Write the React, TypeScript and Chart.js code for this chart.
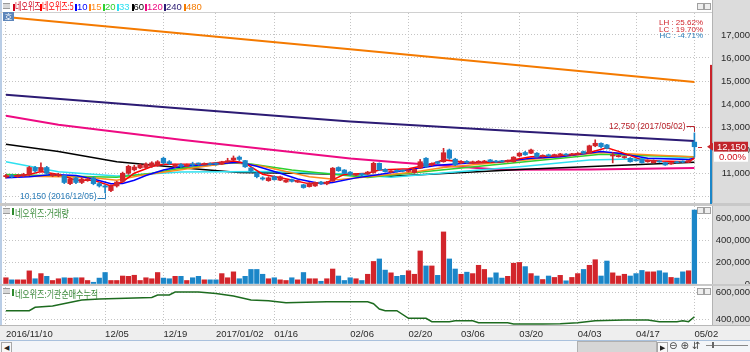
import React, { useEffect, useRef } from 'react';
import { Chart, registerables } from 'chart.js';

Chart.register(...registerables);

const FONT = "'Liberation Sans', Arial, sans-serif";
const KFONT = "'Noto Sans CJK KR', 'Noto Sans', sans-serif";

// ---------- categories (trading days) ----------
const monthDays: [string, number[]][] = [
  ['2016/11', [10, 11, 14, 15, 16, 17, 18, 21, 22, 23, 24, 25, 28, 29, 30]],
  ['2016/12', [1, 2, 5, 6, 7, 8, 9, 12, 13, 14, 15, 16, 19, 20, 21, 22, 23, 26, 27, 28, 29]],
  ['2017/01', [2, 3, 4, 5, 6, 9, 10, 11, 12, 13, 16, 17, 18, 19, 20, 23, 24, 25, 26, 31]],
  ['2017/02', [1, 2, 3, 6, 7, 8, 9, 10, 13, 14, 15, 16, 17, 20, 21, 22, 23, 24, 27, 28]],
  ['2017/03', [2, 3, 6, 7, 8, 9, 10, 13, 14, 15, 16, 17, 20, 21, 22, 23, 24, 27, 28, 29, 30, 31]],
  ['2017/04', [3, 4, 5, 6, 7, 10, 11, 12, 13, 14, 17, 18, 19, 20, 21, 24, 25, 26, 27, 28]],
  ['2017/05', [2]],
];
const dates = monthDays.flatMap(([m, ds]) => ds.map((d) => `${m}/${String(d).padStart(2, '0')}`));
const emptySlots = ['', ' '];
const slots = [...dates, ...emptySlots];

const tickDates = ['2016/11/10', '2016/12/05', '2016/12/19', '2017/01/02', '2017/01/16', '2017/02/06', '2017/02/20', '2017/03/06', '2017/03/20', '2017/04/03', '2017/04/17', '2017/05/02'];
const tickText = ['2016/11/10', '12/05', '12/19', '2017/01/02', '01/16', '02/06', '02/20', '03/06', '03/20', '04/03', '04/17', '05/02'];

// ---------- axis ticks ----------
const priceTicks = [10000, 11000, 12000, 13000, 14000, 15000, 16000, 17000];
const priceLabelMin = 11000;
const volumeTicks = [0, 200000, 400000, 600000];
const instTicks = [400000, 600000];

// ---------- price (OHLC) ----------
const open = [10850, 10900, 10850, 10900, 10950, 11250, 11100, 11250, 10900, 10900,
  10900, 10550, 10800, 10600, 10700, 10800, 10550, 10450, 10250, 10450,
  10650, 11000, 11150, 11230, 11250, 11300, 11350, 11650, 11500, 11300,
  11380, 11300, 11400, 11420, 11380, 11420, 11420, 11400, 11500, 11580,
  11700, 11550, 11230, 11000, 10800, 10680, 10850, 10700, 10620, 10720,
  10620, 10500, 10420, 10450, 10620, 10540, 10650, 11250, 11140, 11050,
  10920, 10980, 10980, 11030, 11430, 11170, 11050, 11120, 11120, 11080,
  11030, 11220, 11650, 11360, 11500, 11500, 12010, 11610, 11440, 11520,
  11450, 11470, 11480, 11580, 11530, 11540, 11500, 11500, 11750, 11900,
  11870, 11870, 11720, 11800, 11760, 11780, 11830, 11790, 11820, 11940,
  11870, 12190, 12300, 12230, 11750, 11720, 11680, 11650, 11580, 11610,
  11500, 11460, 11530, 11460, 11400, 11500, 11520, 11480, 12350];
const high = [10950, 10950, 10950, 11000, 11300, 11300, 11450, 11300, 11000, 11000,
  10900, 10800, 10850, 10800, 10800, 10850, 10600, 10500, 10500, 10650,
  11050, 11350, 11350, 11400, 11450, 11500, 11550, 11700, 11550, 11400,
  11420, 11400, 11480, 11450, 11450, 11450, 11450, 11520, 11650, 11750,
  11750, 11560, 11250, 11050, 10850, 10850, 10880, 10880, 10720, 10750,
  10700, 10520, 10600, 10620, 10650, 10650, 11250, 11280, 11160, 11070,
  11000, 11000, 11080, 11480, 11450, 11200, 11120, 11150, 11150, 11150,
  11200, 11600, 11680, 11450, 11520, 12080, 12050, 11650, 11550, 11550,
  11530, 11550, 11560, 11600, 11560, 11560, 11580, 11720, 11900, 11950,
  12050, 11900, 11800, 11830, 11830, 11860, 11850, 11860, 11900, 11960,
  12220, 12450, 12320, 12250, 11900, 11800, 11750, 11680, 11600, 11630,
  11580, 11580, 11550, 11480, 11470, 11520, 11540, 11570, 12750];
const low = [10800, 10800, 10820, 10850, 10900, 11050, 11050, 10950, 10850, 10850,
  10550, 10500, 10550, 10550, 10650, 10500, 10400, 10150, 10200, 10400,
  10600, 10950, 11100, 11200, 11200, 11250, 11300, 11400, 11380, 11250,
  11250, 11280, 11320, 11350, 11350, 11350, 11350, 11380, 11480, 11550,
  11550, 11250, 11050, 10800, 10700, 10650, 10700, 10680, 10600, 10620,
  10600, 10350, 10400, 10430, 10520, 10500, 10650, 11080, 10980, 10900,
  10900, 10900, 10950, 11000, 11120, 11050, 11020, 11050, 11060, 11050,
  11000, 11200, 11250, 11320, 11400, 11480, 11600, 11330, 11420, 11440,
  11430, 11450, 11460, 11480, 11470, 11480, 11480, 11480, 11720, 11780,
  11850, 11700, 11700, 11730, 11740, 11760, 11770, 11770, 11800, 11850,
  11850, 12150, 12100, 12050, 11450, 11700, 11650, 11480, 11520, 11440,
  11480, 11440, 11470, 11340, 11380, 11440, 11460, 11460, 11700];
const close = [10900, 10850, 10900, 10950, 11250, 11100, 11250, 11000, 10950, 10950,
  10600, 10750, 10600, 10750, 10750, 10550, 10450, 10400, 10450, 10620,
  11000, 11300, 11270, 11360, 11400, 11450, 11500, 11450, 11420, 11380,
  11300, 11340, 11360, 11400, 11420, 11380, 11400, 11490, 11540, 11660,
  11600, 11280, 11100, 10850, 10750, 10800, 10720, 10850, 10700, 10650,
  10680, 10380, 10580, 10600, 10550, 10620, 11220, 11110, 11000, 10950,
  10960, 10940, 11050, 11430, 11150, 11070, 11100, 11080, 11090, 11120,
  11170, 11500, 11290, 11430, 11430, 11890, 11650, 11360, 11500, 11470,
  11500, 11520, 11530, 11500, 11490, 11500, 11560, 11700, 11870, 11800,
  12010, 11720, 11780, 11750, 11810, 11840, 11790, 11840, 11860, 11870,
  12190, 12300, 12150, 12080, 11780, 11760, 11720, 11500, 11540, 11460,
  11560, 11560, 11490, 11360, 11450, 11460, 11480, 11550, 12150];

// ---------- volume ----------
const volume = [57000, 38000, 38000, 38000, 120000, 48000, 95000, 70000, 32000, 48000,
  57000, 54000, 57000, 57000, 32000, 16000, 54000, 105000, 32000, 32000,
  73000, 70000, 80000, 32000, 57000, 48000, 105000, 54000, 48000, 70000,
  70000, 32000, 57000, 70000, 38000, 38000, 38000, 95000, 57000, 111000,
  48000, 70000, 133000, 133000, 89000, 48000, 57000, 38000, 32000, 57000,
  38000, 105000, 48000, 48000, 25000, 48000, 137000, 73000, 32000, 57000,
  48000, 32000, 89000, 206000, 229000, 127000, 102000, 70000, 79000, 121000,
  89000, 302000, 165000, 165000, 79000, 476000, 229000, 137000, 89000, 108000,
  95000, 171000, 133000, 57000, 102000, 54000, 70000, 190000, 197000, 159000,
  95000, 73000, 41000, 73000, 60000, 79000, 29000, 60000, 95000, 133000,
  171000, 222000, 73000, 210000, 102000, 73000, 89000, 73000, 95000, 124000,
  111000, 111000, 121000, 102000, 60000, 54000, 111000, 121000, 676000];

// ---------- moving averages: [trading-day index, value] ----------
const ma5: [number, number][] = [[0, 10850], [4, 10950], [6, 11080], [9, 10950], [12, 10700], [15, 10700], [18, 10450], [20, 10630], [22, 11000], [25, 11290], [27, 11390], [34, 11400], [39, 11530], [41, 11440], [44, 10960], [49, 10710], [52, 10540], [55, 10600], [58, 10950], [62, 11000], [64, 11140], [69, 11200], [73, 11400], [75, 11580], [80, 11450], [85, 11500], [90, 11720], [95, 11760], [100, 11900], [103, 12100], [105, 11950], [109, 11580], [112, 11530], [117, 11500], [118, 11650]];
const ma10: [number, number][] = [[0, 10800], [4, 10850], [8, 10950], [12, 10900], [15, 10750], [18, 10550], [20, 10560], [22, 10700], [24, 10900], [27, 11140], [30, 11290], [35, 11390], [40, 11480], [43, 11300], [47, 11000], [50, 10750], [54, 10550], [56, 10600], [60, 10800], [64, 10950], [69, 11150], [74, 11350], [80, 11460], [85, 11500], [90, 11650], [95, 11720], [102, 11940], [105, 11870], [110, 11650], [117, 11600], [118, 11650]];
const ma15: [number, number][] = [[0, 10880], [10, 10850], [15, 10800], [19, 10700], [23, 10900], [30, 11150], [39, 11480], [44, 11300], [52, 10850], [57, 10720], [62, 10850], [70, 11050], [75, 11250], [89, 11580], [102, 11900], [110, 11800], [118, 11700]];
const ma20: [number, number][] = [[0, 10950], [15, 10850], [19, 10830], [25, 11000], [30, 11220], [39, 11450], [42, 11400], [49, 11140], [56, 10960], [62, 10820], [75, 11150], [89, 11500], [102, 11820], [110, 11760], [118, 11720]];
const ma33: [number, number][] = [[0, 11500], [9, 11070], [19, 10880], [30, 11050], [45, 11080], [59, 10960], [66, 10830], [89, 11300], [100, 11570], [118, 11680]];
const ma60: [number, number][] = [[0, 12260], [9, 11940], [19, 11500], [30, 11240], [40, 11030], [50, 11000], [60, 10930], [66, 10870], [89, 11170], [118, 11480]];
const ma120: [number, number][] = [[0, 13490], [9, 13100], [30, 12450], [59, 11640], [68, 11460], [85, 11150], [100, 11160], [118, 11230]];
const ma240: [number, number][] = [[0, 14400], [29, 13830], [59, 13240], [89, 12800], [118, 12400]];
const ma480: [number, number][] = [[0, 17780], [59, 16380], [118, 14960]];

const maSeries = [ma5, ma10, ma15, ma20, ma33, ma60, ma120, ma240, ma480];
const maNames = ['네오위즈:5', '10', '15', '20', '33', '60', '120', '240', '480'];
const maColors = ['#ff0000', '#0000ff', '#ff8a1c', '#2ed12e', '#2ee0f0', '#000000', '#ee0a82', '#2c1b74', '#f47a00'];
const maWidths = [1.5, 1.5, 1.5, 1.5, 1.5, 1.5, 2, 2, 2];

// ---------- institutional cumulative net buying ----------
const inst: [number, number][] = [[0, 462000], [4, 462000], [5, 488000], [8, 497000], [13, 542000], [16, 550000], [25, 562000], [26, 580000], [28, 580000], [29, 602000], [33, 602000], [36, 592000], [39, 572000], [42, 542000], [45, 537000], [48, 522000], [55, 530000], [62, 530000], [63, 515000], [64, 475000], [65, 462000], [67, 462000], [69, 405000], [72, 405000], [73, 380000], [76, 380000], [77, 387000], [80, 387000], [81, 372000], [86, 372000], [87, 362000], [92, 362000], [95, 365000], [98, 372000], [101, 387000], [106, 392000], [110, 392000], [112, 380000], [115, 380000], [116, 387000], [117, 380000], [118, 417000]];

const rangeHigh = 15700;
const changeText = '0.00%';

const UP = '#d2252b';
const DOWN = '#1b86c8';
const GRID = '#c4c4c4';
const AXIS_TEXT = '#2a2a2a';

const fmt = (v: number) => Math.round(v).toLocaleString('en-US');
const tickIdx = new Set(tickDates.map((d) => dates.indexOf(d)));
const candleColor = open.map((o, i) => (close[i] >= o ? UP : DOWN));
const pts = (arr: [number, number][]) => arr.map(([i, v]) => ({ x: slots[i], y: v }));

const noPad = (s: any) => {
  s.paddingTop = 0;
  s.paddingBottom = 0;
  s.paddingLeft = 0;
  s.paddingRight = 0;
};

const xAxis = (labels: boolean) => ({
  type: 'category',
  offset: true,
  grid: {
    offset: false,
    drawTicks: false,
    color: (c: any) => (tickIdx.has(c.index) ? GRID : 'rgba(0,0,0,0)'),
  },
  border: { display: false, dash: [1, 2] },
  ticks: labels
    ? {
        autoSkip: false,
        maxRotation: 0,
        minRotation: 0,
        align: 'start',
        padding: 4,
        color: AXIS_TEXT,
        font: { size: 9.5, family: FONT },
        callback: (_v: any, i: number) => {
          const k = tickDates.indexOf(slots[i]);
          return k >= 0 ? tickText[k] : '';
        },
      }
    : { display: false },
  afterFit: (s: any) => {
    noPad(s);
    if (labels) s.height = 15;
  },
});

const yAxis = (min: number, max: number, tickVals: number[], pad: number, hideBelow = -Infinity) => ({
  position: 'right',
  min,
  max,
  afterBuildTicks: (s: any) => {
    s.ticks = tickVals.map((v) => ({ value: v }));
  },
  afterFit: (s: any) => {
    noPad(s);
    s.width = 41;
  },
  grid: { color: GRID, drawTicks: false },
  border: { display: false, dash: [1, 2] },
  ticks: {
    crossAlign: 'far',
    padding: pad,
    color: AXIS_TEXT,
    font: { size: 9.5, family: FONT },
    callback: (v: number) => (v < hideBelow ? '' : fmt(v)),
  },
});

const priceExtras = {
  id: 'priceExtras',
  afterDraw(chart: any) {
    const { ctx, chartArea, scales } = chart;
    const x = scales.x;
    const y = scales.y;
    let hiI = 0;
    let loI = 0;
    high.forEach((v, i) => { if (v > high[hiI]) hiI = i; });
    low.forEach((v, i) => { if (v < low[loI]) loI = i; });
    ctx.save();
    ctx.font = `8.5px ${FONT}`;
    ctx.lineWidth = 1;
    // highest point
    const hx = Math.round(x.getPixelForValue(hiI)) + 0.5;
    const hy = y.getPixelForValue(high[hiI]);
    ctx.fillStyle = '#b8232b';
    ctx.strokeStyle = '#b8232b';
    ctx.textAlign = 'right';
    ctx.textBaseline = 'middle';
    ctx.fillText(`${fmt(high[hiI])} (${dates[hiI]})`, hx - 9, hy - 6.5);
    ctx.beginPath();
    ctx.moveTo(hx - 8, Math.round(hy - 7) + 0.5);
    ctx.lineTo(hx, Math.round(hy - 7) + 0.5);
    ctx.lineTo(hx, hy - 1);
    ctx.stroke();
    // lowest point
    const lx = Math.round(x.getPixelForValue(loI)) + 0.5;
    const ly = y.getPixelForValue(low[loI]);
    ctx.fillStyle = '#2a7cb8';
    ctx.strokeStyle = '#2a7cb8';
    ctx.fillText(`${fmt(low[loI])} (${dates[loI]})`, lx - 9, ly + 3.5);
    ctx.beginPath();
    ctx.moveTo(lx - 8, Math.round(ly + 5) + 0.5);
    ctx.lineTo(lx, Math.round(ly + 5) + 0.5);
    ctx.lineTo(lx, ly + 1);
    ctx.stroke();

    // range bar + current price tag
    const last = close.length - 1;
    const yc = y.getPixelForValue(close[last]);
    const yr = y.getPixelForValue(rangeHigh);
    ctx.fillStyle = '#c8242b';
    ctx.fillRect(710, yr, 2, yc - yr);
    ctx.fillStyle = DOWN;
    ctx.fillRect(710, yc, 2, chartArea.bottom - yc + 3);
    ctx.strokeStyle = '#c8242b';
    ctx.beginPath();
    ctx.moveTo(698, Math.round(yc) + 0.5);
    ctx.lineTo(702, Math.round(yc) + 0.5);
    ctx.stroke();
    ctx.fillStyle = '#c8242b';
    ctx.beginPath();
    ctx.moveTo(707, yc);
    ctx.lineTo(713, yc - 4);
    ctx.lineTo(713, yc + 4);
    ctx.closePath();
    ctx.fill();
    ctx.fillStyle = '#c1252c';
    ctx.fillRect(714, yc - 5, 34, 10);
    ctx.fillStyle = '#ffffff';
    ctx.fillRect(714, yc + 5, 34, 10);
    ctx.font = `9.5px ${FONT}`;
    ctx.textAlign = 'right';
    ctx.fillStyle = '#ffffff';
    ctx.fillText(fmt(close[last]), 746, yc + 0.5);
    ctx.fillStyle = '#d0101a';
    ctx.fillText(changeText, 746, yc + 10.5);
    ctx.restore();
  },
};

const common = {
  responsive: false,
  animation: false,
  events: [],
  plugins: { legend: { display: false }, tooltip: { enabled: false } },
};

export default function App() {
  const priceRef = useRef<HTMLCanvasElement>(null);
  const volRef = useRef<HTMLCanvasElement>(null);
  const instRef = useRef<HTMLCanvasElement>(null);

  useEffect(() => {
    const charts: Chart[] = [];
    const lineSets = maSeries.map((s, k) => ({
      type: 'line',
      label: maNames[k],
      data: pts(s),
      borderColor: maColors[k],
      borderWidth: maWidths[k],
      pointRadius: 0,
      tension: 0,
      fill: false,
      order: 2 + k,
    }));
    charts.push(
      new Chart(priceRef.current!, {
        type: 'bar',
        data: {
          labels: slots,
          datasets: [
            {
              label: '네오위즈',
              data: open.map((o, i) => [Math.min(o, close[i]), Math.max(o, close[i])]),
              backgroundColor: candleColor,
              barThickness: 4.6,
              minBarLength: 1,
              grouped: false,
              order: 0,
            },
            {
              label: 'wick',
              data: high.map((h, i) => [low[i], h]),
              backgroundColor: candleColor,
              barThickness: 1,
              grouped: false,
              order: 1,
            },
            ...lineSets,
          ] as any,
        },
        options: {
          ...common,
          layout: { padding: { left: 3, top: 1, bottom: 1, right: 0 } },
          scales: { x: xAxis(false), y: yAxis(9710, 17950, priceTicks, 10, priceLabelMin) },
        } as any,
        plugins: [priceExtras],
      })
    );
    charts.push(
      new Chart(volRef.current!, {
        type: 'bar',
        data: {
          labels: slots,
          datasets: [
            { label: '거래량', data: volume, backgroundColor: candleColor, barThickness: 4.6 },
          ],
        },
        options: {
          ...common,
          layout: { padding: { left: 3, top: 0, bottom: 0, right: 0 } },
          scales: { x: xAxis(false), y: yAxis(0, 713000, volumeTicks, 5) },
        } as any,
      })
    );
    charts.push(
      new Chart(instRef.current!, {
        type: 'line',
        data: {
          labels: slots,
          datasets: [
            {
              label: '기관순매수누적',
              data: pts(inst),
              borderColor: '#1d6b1f',
              borderWidth: 1.5,
              pointRadius: 0,
              tension: 0,
            },
          ],
        },
        options: {
          ...common,
          layout: { padding: { left: 3, top: 1, bottom: 2, right: 0 } },
          scales: { x: xAxis(true), y: yAxis(355000, 640000, instTicks, 5) },
        } as any,
      })
    );
    return () => charts.forEach((c) => c.destroy());
  }, []);

  // LH / LC / HC summary derived from the data
  const hi = Math.max(...high);
  const lo = Math.min(...low);
  const cur = close[close.length - 1];
  const pct = (a: number, b: number) => `${(((a - b) / b) * 100).toFixed(2)}%`;
  const stats = [
    { t: `LH : ${pct(hi, lo)}`, c: '#d0242c' },
    { t: `LC : ${pct(cur, lo)}`, c: '#d0242c' },
    { t: `HC : ${pct(cur, hi)}`, c: '#2a7cb8' },
  ];

  const legendItems = [
    { t: '네오위즈', c: '#d0021b', x: 13, k: true },
    ...maNames.map((n, k) => ({ t: n, c: maColors[k], x: [40, 75, 89, 103, 117, 131.5, 145, 164, 184][k], k: k === 0 })),
  ];

  const abs = (s: any) => ({ position: 'absolute', ...s });
  const icon = (top: number) => (
    <div style={abs({ left: 3, top, width: 7, height: 4, borderTop: '1px solid #9a9a9a', borderBottom: '1px solid #9a9a9a', background: '#d8d8d8' })} />
  );
  const btns = (top: number) => (
    <>
      <div style={abs({ left: 697, top, width: 5, height: 5, border: '1px solid #a0a0a0', background: '#eeeeee' })} />
      <div style={abs({ left: 704, top, width: 5, height: 5, border: '1px solid #a0a0a0', background: '#eeeeee' })} />
    </>
  );
  const panelLabel = (top: number, text: string) => (
    <div style={abs({ left: 12, top, height: 10, whiteSpace: 'nowrap' })}>
      <span style={abs({ left: 0, top: 1, width: 2, height: 7, background: '#2e8b2e' })} />
      <span style={abs({ left: 3, top: -2, fontFamily: KFONT, fontSize: 10, color: '#3b8a3b', transform: 'scaleX(0.8)', transformOrigin: 'left', display: 'inline-block' })}>{text}</span>
    </div>
  );

  return (
    <div style={abs({ left: 0, top: 0, width: 750, height: 352, background: '#ffffff', overflow: 'hidden', fontFamily: FONT })}>
      <div style={abs({ left: 712, top: 0, width: 38, height: 326, background: '#dcdcdc', borderLeft: '1px solid #b3b3b3' })} />
      <div style={abs({ left: 0, top: 0, width: 2, height: 340, background: '#b9cde6' })} />
      <div style={abs({ left: 0, top: 12, width: 712, height: 1, background: '#d0d0d0' })} />
      <div style={abs({ left: 0, top: 203, width: 750, height: 3, background: '#c8c8c8' })} />
      <div style={abs({ left: 0, top: 284, width: 750, height: 2, background: '#c8c8c8' })} />
      <div style={abs({ left: 0, top: 325, width: 750, height: 15, background: '#eeeeee', borderTop: '1px solid #b8b8b8' })} />
      <div style={abs({ left: 0, top: 340, width: 750, height: 12, background: '#f3f5f8', borderTop: '1px solid #a9c1dd' })} />

      <canvas ref={priceRef} width={750} height={192} style={abs({ left: 0, top: 12 })} />
      <canvas ref={volRef} width={750} height={78} style={abs({ left: 0, top: 206 })} />
      <canvas ref={instRef} width={750} height={56} style={abs({ left: 0, top: 286 })} />

      {icon(3)}
      {legendItems.map((it, i) => (
        <div key={i} style={abs({ left: it.x, top: 1, height: 11, whiteSpace: 'nowrap' })}>
          <span style={abs({ left: 0, top: 3, width: 2, height: 7, background: it.c })} />
          <span
            style={abs({
              left: 2,
              top: it.k ? -1 : 0,
              fontFamily: it.k ? KFONT : FONT,
              fontSize: it.k ? 10 : 9.5,
              color: it.c,
              display: 'inline-block',
              transform: it.k ? 'scaleX(0.7)' : 'none',
              transformOrigin: 'left',
              lineHeight: '12px',
            })}
          >
            {it.t}
          </span>
        </div>
      ))}
      <div style={abs({ left: 3, top: 12, width: 11, height: 9, background: '#5d86bb', color: '#fff', fontFamily: KFONT, fontSize: 8, lineHeight: '9px', textAlign: 'center' })}>호</div>
      {btns(3)}

      {stats.map((s, i) => (
        <div key={i} style={abs({ right: 47, top: 19 + i * 6.5, fontSize: 8, lineHeight: '7px', color: s.c, whiteSpace: 'pre' })}>{s.t}</div>
      ))}

      {icon(208)}
      {panelLabel(207, '네오위즈:거래량')}
      {btns(207)}
      {icon(288)}
      {panelLabel(288, '네오위즈:기관순매수누적')}
      {btns(288)}

      {/* scrollbar strip */}
      <div style={abs({ left: 1, top: 342, width: 9, height: 9, border: '1px solid #a8a8a8', background: '#f8f8f8', fontSize: 7, lineHeight: '9px', textAlign: 'center', color: '#222' })}>◀</div>
      <div style={abs({ left: 577, top: 341, width: 78, height: 10, background: '#d6d6d6', border: '1px solid #b0b0b0' })} />
      <div style={abs({ left: 657, top: 342, width: 9, height: 9, border: '1px solid #a8a8a8', background: '#f8f8f8', fontSize: 7, lineHeight: '9px', textAlign: 'center', color: '#222' })}>▶</div>
      <div style={abs({ left: 669, top: 340, fontFamily: "'DejaVu Sans', sans-serif", fontSize: 10, lineHeight: '12px', color: '#444', whiteSpace: 'pre' })}>⊖ ⊕ ⇵</div>
      <div style={abs({ left: 706, top: 345, width: 42, height: 1, background: '#888' })} />
      <div style={abs({ left: 712, top: 342, width: 2, height: 6, background: '#666' })} />
    </div>
  );
}
